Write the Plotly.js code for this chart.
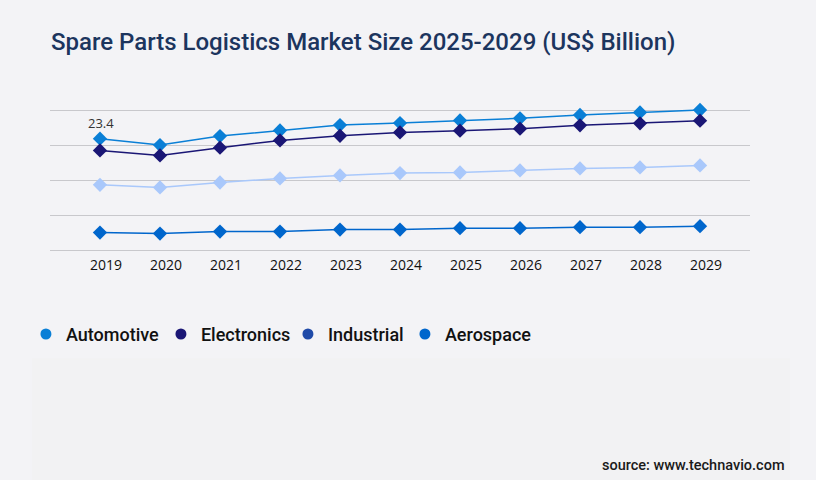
<!DOCTYPE html>
<html>
<head>
<meta charset="utf-8">
<script src="https://cdn.plot.ly/plotly-3.0.1.min.js"></script>
<style>
html,body{margin:0;padding:0;background:#f3f3f6;}
#chart{width:816px;height:480px;}
</style>
</head>
<body>
<div id="chart"></div>
<script>
const years = [2019, 2020, 2021, 2022, 2023, 2024, 2025, 2026, 2027, 2028, 2029];
const automotive = [23.4, 22.05, 23.94, 25.1, 26.25, 26.67, 27.2, 27.65, 28.35, 28.9, 29.4];
const electronics = [20.93, 19.88, 21.5, 23.03, 24.0, 24.7, 25.06, 25.48, 26.18, 26.6, 27.16];
const industrial = [13.72, 13.17, 14.2, 15.05, 15.68, 16.17, 16.3, 16.73, 17.15, 17.36, 17.78];
const aerospace = [3.71, 3.5, 3.92, 3.92, 4.34, 4.34, 4.62, 4.62, 4.83, 4.83, 5.04];
const seriesNames = ['Automotive', 'Electronics', 'Industrial', 'Aerospace'];
const lineColors = ['#0a7fd6', '#1a1675', '#a9c8fb', '#0066cc'];
const legendColors = ['#0a7fd6', '#1a1675', '#1f4aa8', '#0066cc'];
const legendWidths = [90, 82, 72, 90];
const allSeries = [automotive, electronics, industrial, aerospace];

const traces = [];
allSeries.forEach((vals, i) => {
  traces.push({
    x: years, y: vals, type: 'scatter', mode: 'lines+markers',
    name: seriesNames[i], showlegend: false, cliponaxis: false,
    line: {color: lineColors[i], width: 1.5},
    marker: {symbol: 'diamond', size: 11, color: lineColors[i]},
    hoverinfo: 'x+y'
  });
});
seriesNames.forEach((n, i) => {
  traces.push({
    x: [null], y: [null], type: 'scatter', mode: 'markers', name: n,
    legendwidth: legendWidths[i],
    marker: {symbol: 'circle', size: 11, color: legendColors[i]}
  });
});

const layout = {
  width: 816, height: 480,
  paper_bgcolor: '#f3f3f6', plot_bgcolor: 'rgba(0,0,0,0)',
  margin: {l: 50, r: 66, t: 100, b: 225},
  title: {
    text: 'Spare Parts Logistics Market Size 2025-2029 (US$ Billion)',
    x: 51/816, xanchor: 'left', y: 1 - 42/480, yanchor: 'middle',
    font: {family: 'Roboto, sans-serif', size: 24, color: '#1c355e', weight: 500}
  },
  xaxis: {
    range: [2018.167, 2029.833], tickvals: years, ticktext: years.map(String),
    showgrid: false, zeroline: false, showline: false, ticks: '',
    tickfont: {family: 'Open Sans, sans-serif', size: 14, color: '#111', weight: 500},
    ticklabelstandoff: 0, ticklabelshift: 6
  },
  yaxis: {
    range: [-1, 31.5], tick0: 0, dtick: 7.35, showticklabels: false,
    showgrid: true, gridcolor: '#c8c8cc', gridwidth: 1, zeroline: false, showline: false
  },
  showlegend: true,
  legend: {
    orientation: 'h', x: -0.0344, xanchor: 'left', y: (254.8-334)/154.8, yanchor: 'middle',
    font: {family: 'Roboto, sans-serif', size: 18, color: '#111', weight: 500},
    bgcolor: 'rgba(0,0,0,0)', itemwidth: 30, itemclick: false
  },
  annotations: [
    {x: years[0], y: automotive[0], xref: 'x', yref: 'y', text: String(automotive[0]),
     showarrow: false, yshift: 16, xshift: 1, font: {family: 'Open Sans, sans-serif', size: 13, color: '#333'}},
    {x: (787-50)/700, y: (254.8-465)/154.8, xref: 'paper', yref: 'paper', xanchor: 'right', yanchor: 'middle',
     text: 'source: www.technavio.com', showarrow: false,
     font: {family: 'Roboto, sans-serif', size: 14.5, color: '#1a1a1a', weight: 500}}
  ],
  shapes: [
    {type: 'rect', xref: 'paper', yref: 'paper', layer: 'below',
     x0: -18/700, x1: 740/700, y0: (254.8-480)/154.8, y1: (254.8-358)/154.8,
     fillcolor: '#f2f2f3', line: {width: 0}}
  ]
};
Plotly.newPlot('chart', traces, layout, {displayModeBar: false, staticPlot: true});
</script>
</body>
</html>
